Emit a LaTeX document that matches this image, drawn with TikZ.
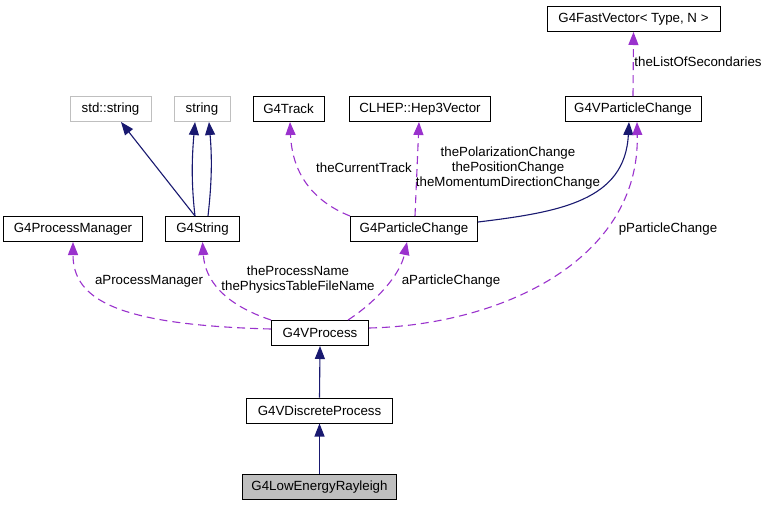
\documentclass[tikz,border=0pt]{standalone}
\usepackage{fontspec}
\setmainfont{Liberation Sans}
\usetikzlibrary{arrows.meta}
\definecolor{navyedge}{RGB}{25,25,112}
\definecolor{orchidedge}{RGB}{154,50,205}
\definecolor{greybox}{RGB}{191,191,191}
\begin{document}
\begin{tikzpicture}[x=1pt,y=-1pt,
  every node/.style={font=\fontsize{13.3}{15}\selectfont},
  cls/.style={draw=black, line width=1pt, rectangle, minimum height=25pt, inner sep=0pt, fill=white},
  ext/.style={cls, draw=greybox},
  cur/.style={cls, fill=greybox},
  inh/.style={draw=navyedge, line width=1.1pt, -{Triangle[length=13pt,width=10pt]}},
  use/.style={draw=orchidedge, line width=1.1pt, dash pattern=on 8pt off 5pt, -{Triangle[length=13pt,width=10pt]}},
  lbl/.style={inner sep=0pt, align=center}]
\useasboundingbox[fill=white] (0,0) rectangle (768,507);

% nodes
\node[cls, minimum width=173pt] (fast) at (633.5,19) {G4FastVector< Type, N >};
\node[cls, minimum width=136pt] (vpc) at (633,109) {G4VParticleChange};
\node[ext, minimum width=81pt] (stds) at (110.5,109) {std::string};
\node[ext, minimum width=56pt] (str) at (202,109) {string};
\node[cls, minimum width=71pt] (track) at (288.5,109) {G4Track};
\node[cls, minimum width=141pt] (hep) at (420,109) {CLHEP::Hep3Vector};
\node[cls, minimum width=139pt] (pm) at (73,229) {G4ProcessManager};
\node[cls, minimum width=74pt] (g4s) at (202.5,229) {G4String};
\node[cls, minimum width=127pt] (pc) at (414,229) {G4ParticleChange};
\node[cls, minimum width=97pt] (vp) at (320,333) {G4VProcess};
\node[cls, minimum width=146pt] (vdp) at (319.5,410.5) {G4VDiscreteProcess};
\node[cur, minimum width=154pt] (ler) at (319.5,487) {G4LowEnergyRayleigh};

% inheritance edges
\draw[inh] (vdp.north) -- (vp.south);
\draw[inh] (ler.north) -- (vdp.south);
\draw[inh] ([xshift=-7.5pt]g4s.north) -- ([xshift=10.5pt]stds.south);
\draw[inh] ([xshift=-7.5pt]g4s.north) .. controls +(-4,-35) and +(-3,35) .. ([xshift=-7pt]str.south);
\draw[inh] ([xshift=5.5pt]g4s.north) .. controls +(4,-35) and +(3,35) .. ([xshift=7pt]str.south);
\draw[inh] ([yshift=7pt]pc.east) .. controls +(82.5,-10) and +(-4,78.5) .. ([xshift=-4pt]vpc.south);

% usage edges
\draw[use] (vpc.north) -- (fast.south);
\draw[use] (pc.north west) .. controls +(-40,-16) and +(2,48.5) .. ([xshift=1.5pt]track.south);
\draw[use] ([xshift=1pt]pc.north) -- ([xshift=-1pt]hep.south);
\draw[use] ([yshift=4pt]vp.west) .. controls +(-151.5,-4) and +(0,58.5) .. (pm.south);
\draw[use] (vp.north west) .. controls +(-46.5,-15.5) and +(2.5,38.5) .. (g4s.south);
\draw[use] ([xshift=28pt]vp.north) .. controls +(27,-17.5) and +(-7,33.5) .. ([xshift=-7pt]pc.south);
\draw[use] ([yshift=5pt]vp.east) .. controls +(131.5,-3) and +(3,138.5) .. ([xshift=4pt]vpc.south);

% labels
\node[lbl] (l1) at (698,62) {theListOfSecondaries};
\node[lbl] (l2) at (364,168) {theCurrentTrack};
\node[lbl] (l3) at (508,168) {thePolarizationChange\\thePositionChange\\theMomentumDirectionChange};
\node[lbl] (l4) at (668,229) {pParticleChange};
\node[lbl] (l5) at (451,281) {aParticleChange};
\node[lbl] (l6) at (149,281) {aProcessManager};
\node[lbl] (l7) at (298,280) {theProcessName\\thePhysicsTableFileName};
\end{tikzpicture}
\end{document}
